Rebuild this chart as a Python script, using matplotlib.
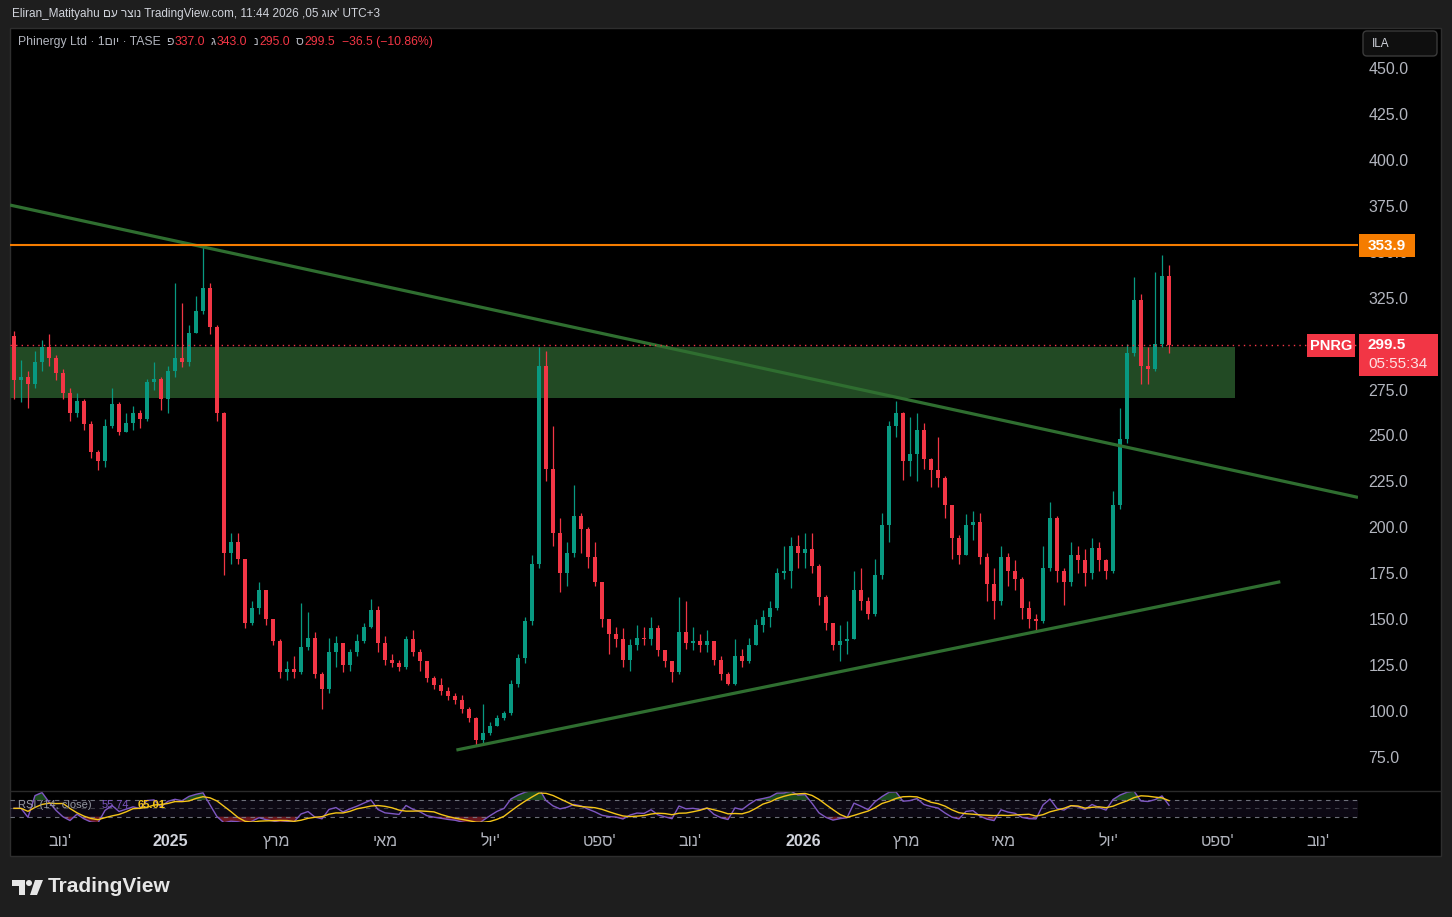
import numpy as np
import pandas as pd
import matplotlib
matplotlib.use("Agg")
import matplotlib.pyplot as plt
from matplotlib.patches import Rectangle, FancyBboxPatch, Polygon, Circle

FONT = ['Liberation Sans', 'DejaVu Sans']
plt.rcParams['font.family'] = FONT

# ---------------- data (PNRG daily, sampled) ----------------
first_open = 304
closes = [280, 282, 278, 290, 298, 292, 284, 273, 262, 269,
          256, 241, 236, 255, 267, 252, 257, 262, 259, 279,
          281, 270, 285, 292, 290, 306, 318, 330, 309, 262,
          186, 192, 183, 148, 156, 166, 150, 138, 121, 123,
          121, 135, 140, 120, 112, 132, 137, 125, 132, 138,
          146, 155, 137, 128, 126, 124, 139, 132, 127, 118,
          114, 111, 108, 106, 101, 96, 84, 88, 92, 96,
          99, 115, 129, 149, 180, 288, 232, 197, 175, 186,
          206, 199, 184, 170, 150, 142, 139, 128, 136, 140,
          139, 145, 133, 127, 121, 143, 137, 138, 136, 138,
          128, 120, 115, 130, 127, 136, 147, 151, 156, 175,
          176, 190, 186, 188, 179, 162, 148, 136, 138, 139,
          166, 160, 153, 174, 201, 255, 262, 236, 240, 253,
          237, 231, 227, 212, 194, 185, 201, 203, 184, 169,
          160, 184, 176, 172, 156, 150, 149, 178, 205, 176,
          170, 185, 182, 175, 189, 182, 176, 212, 248, 295,
          324, 288, 286, 300, 337, 299.5]
highs = [307, 291, 285, 296, 302, 305, 294, 286, 276, 273,
         270, 258, 242, 259, 276, 268, 262, 266, 264, 281,
         290, 282, 288, 333, 322, 310, 326, 353, 333, 310,
         263, 197, 197, 183, 160, 170, 166, 150, 139, 127,
         130, 159, 154, 143, 121, 140, 141, 137, 134, 142,
         148, 161, 157, 141, 131, 128, 141, 144, 134, 127,
         119, 118, 113, 110, 109, 102, 97, 104, 94, 98,
         100, 117, 131, 151, 185, 298, 296, 255, 205, 192,
         223, 208, 200, 192, 170, 150, 146, 145, 139, 147,
         146, 151, 147, 133, 127, 162, 160, 146, 142, 144,
         138, 130, 121, 139, 134, 140, 150, 155, 160, 178,
         190, 195, 196, 197, 197, 180, 163, 146, 147, 149,
         176, 178, 162, 183, 208, 258, 269, 263, 260, 262,
         257, 238, 249, 228, 212, 196, 207, 209, 208, 186,
         178, 190, 186, 182, 173, 160, 153, 190, 214, 206,
         178, 192, 190, 188, 194, 192, 183, 220, 265, 300,
         336, 327, 298, 339, 348, 343]
lows = [270, 268, 265, 276, 285, 288, 280, 270, 258, 260,
        253, 238, 231, 233, 254, 250, 252, 253, 254, 258,
        275, 264, 262, 282, 287, 288, 306, 316, 305, 258,
        174, 180, 180, 145, 147, 153, 147, 136, 118, 117,
        118, 120, 133, 118, 101, 110, 124, 121, 122, 130,
        137, 145, 132, 125, 124, 122, 123, 130, 122, 116,
        112, 109, 106, 104, 99, 94, 81, 82, 87, 92,
        95, 98, 113, 126, 147, 178, 225, 190, 165, 168,
        184, 186, 178, 168, 146, 131, 135, 124, 122, 133,
        136, 136, 130, 124, 116, 120, 134, 133, 132, 132,
        125, 117, 114, 114, 124, 126, 136, 143, 146, 155,
        172, 167, 178, 178, 175, 158, 144, 133, 127, 131,
        139, 155, 150, 152, 172, 192, 249, 226, 228, 225,
        232, 222, 222, 205, 183, 180, 185, 193, 180, 160,
        150, 158, 168, 166, 150, 145, 144, 148, 176, 170,
        158, 168, 175, 168, 172, 176, 172, 175, 210, 246,
        293, 278, 278, 285, 298, 295]
opens = [first_open] + closes[:-1]

# annotations / drawings (price levels, bar-index anchors)
resistance_level = 353.9
last_price = 299.5
zone_low, zone_high, zone_end_bar = 270.4, 298.2, 174.4
down_line_bars, down_line_prices = [-0.57, 192.0], [375.4, 216.3]
up_line_bars, up_line_prices = [63.2, 180.9], [78.8, 170.4]

price_ticks = [75, 100, 125, 150, 175, 200, 225, 250, 275, 300,
               325, 350, 375, 400, 425, 450]
month_labels = ["בונ'", "2025", "ץרמ", "יאמ", "לוי'", "טפס'", "בונ'",
                "2026", "ץרמ", "יאמ", "לוי'", "טפס'", "בונ'"]
month_label_bars = [6.57, 22.29, 37.57, 53.0, 68.0, 83.71, 96.57,
                    112.71, 127.57, 141.29, 156.29, 172.0, 186.29]

# ---------------- styling ----------------
UP, DOWN = '#089981', '#f23645'
TXT = '#b2b5be'
W, H = 1452, 917

fig = plt.figure(figsize=(W / 100, H / 100), dpi=100, facecolor='#1e1e1e')


def fx(px):
    return px / W


def fy(py):
    return 1 - py / H


# background panel
bg = fig.add_axes([0, 0, 1, 1], zorder=0)
bg.set_xlim(0, W)
bg.set_ylim(H, 0)
bg.axis('off')
bg.add_patch(Rectangle((10, 28), 1431, 828, facecolor='black',
                       edgecolor='#2e2e2e', lw=1))

# ---------------- main price pane ----------------
ax = fig.add_axes([fx(10), fy(790), (1358 - 10) / W, (790 - 28) / H], zorder=1)
ax.set_facecolor('none')
ax.set_xlim(-0.571, 192.0)
ax.set_ylim(57.04, 471.77)
for s in ax.spines.values():
    s.set_visible(False)

idx = np.arange(len(closes))
o = np.array(opens, float)
c = np.array(closes, float)
h = np.maximum.reduce([np.array(highs, float), o, c])
l = np.minimum.reduce([np.array(lows, float), o, c])
up = c >= o
cols = np.where(up, UP, DOWN)

ax.add_patch(Rectangle((-0.571, zone_low), zone_end_bar + 0.571,
                       zone_high - zone_low, facecolor='#224a24',
                       edgecolor='none', zorder=0.5))
ax.vlines(idx, l, h, colors=cols, lw=0.9, zorder=2)
ax.bar(idx, np.maximum(np.abs(c - o), 0.7), bottom=np.minimum(o, c),
       width=0.64, color=cols, lw=0, zorder=2.1)

ax.plot(down_line_bars, down_line_prices, color='#2f6e30', lw=2.3,
        solid_capstyle='butt', zorder=3)
ax.plot(up_line_bars, up_line_prices, color='#2f6e30', lw=2.3,
        solid_capstyle='butt', zorder=3)
ax.axhline(resistance_level, color='#f57c00', lw=1.5, zorder=3)
ax.axhline(last_price, color=DOWN, lw=1, ls=(0, (1, 3)), zorder=3)

ax.set_xticks([])
ax.set_yticks(price_ticks)
ax.set_yticklabels([f"{v:.1f}" for v in price_ticks])
ax.tick_params(axis='y', left=False, right=False, labelleft=False,
               labelright=True, length=0, pad=7.5, labelsize=11.5,
               labelcolor=TXT)

# ---------------- RSI pane ----------------
rsi_len, ma_len = 5, 5
cs = pd.Series(c)
delta = cs.diff().fillna(0)
gain = delta.clip(lower=0)
loss = -delta.clip(upper=0)
avg_g = gain.ewm(alpha=1 / rsi_len, adjust=False).mean()
avg_l = loss.ewm(alpha=1 / rsi_len, adjust=False).mean()
rsi = (100 - 100 / (1 + avg_g / avg_l.replace(0, np.nan))).fillna(50)
rsi_ma = rsi.rolling(ma_len, min_periods=1).mean()

rx = fig.add_axes([fx(10), fy(822), (1358 - 10) / W, (822 - 791) / H], zorder=1)
rx.set_facecolor('none')
rx.set_xlim(-0.571, 192.0)
rx.set_ylim(17.3, 91.6)
for s in rx.spines.values():
    s.set_visible(False)
rx.axhspan(30, 70, color='#7e57c2', alpha=0.1, lw=0)
for lev, a in [(70, 0.9), (50, 0.45), (30, 0.9)]:
    rx.axhline(lev, color='#787b86', lw=0.8, ls=(0, (4, 4)), alpha=a)
rx.fill_between(idx, 70, rsi, where=rsi > 70, color='#2e7d32', alpha=0.6,
                interpolate=True, lw=0)
rx.fill_between(idx, 30, rsi, where=rsi < 30, color='#b22833', alpha=0.6,
                interpolate=True, lw=0)
rx.plot(idx, rsi, color='#7e57c2', lw=1)
rx.plot(idx, rsi_ma, color='#f5c518', lw=1)
rx.set_yticks([])
rx.set_xticks(month_label_bars)
rx.set_xticklabels(month_labels)
rx.tick_params(axis='x', length=0, pad=8.5, labelsize=11.5, labelcolor=TXT)
for lab in rx.get_xticklabels():
    if lab.get_text().isdigit():
        lab.set_fontweight('bold')
        lab.set_color('#d1d4dc')

# ---------------- overlay (chrome, labels) ----------------
ov = fig.add_axes([0, 0, 1, 1], zorder=5)
ov.set_xlim(0, W)
ov.set_ylim(H, 0)
ov.axis('off')
ov.patch.set_alpha(0)
renderer = fig.canvas.get_renderer()

# pane separator
ov.plot([10, 1441], [791, 791], color='#2a2a2a', lw=1)

# header
ov.text(12, 14, "Eliran_Matityahu םע רצונ TradingView.com, 11:44 2026 ,05 גוא' UTC+3",
        color='#d1d4dc', fontsize=8.5, va='center', ha='left')

# legend line, chained left to right
legend_parts = [("Phinergy Ltd · 1םוי · TASE", TXT, 5),
                ("פ", TXT, 1), ("337.0", DOWN, 6),
                ("ג", TXT, 1), ("343.0", DOWN, 6),
                ("נ", TXT, 1), ("295.0", DOWN, 6),
                ("ס", TXT, 1), ("299.5", DOWN, 7),
                ("−36.5 (−10.86%)", DOWN, 0)]
cur_x = 18
for t, col, gap in legend_parts:
    tt = ov.text(cur_x, 42, t, color=col, fontsize=8.8, va='center', ha='left')
    cur_x += tt.get_window_extent(renderer=renderer).width + gap

# ILA button
ov.add_patch(FancyBboxPatch((1363, 31), 74, 25,
                            boxstyle="round,pad=0,rounding_size=4",
                            facecolor='#0f0f0f', edgecolor='#3a3a3a', lw=1))
ov.text(1372, 44, "ILA", color='#d1d4dc', fontsize=8.5, va='center', ha='left')

# resistance price label
ov.add_patch(Rectangle((1359, 234), 56, 23, facecolor='#f57c00', edgecolor='none'))
ov.text(1368, 245.5, f"{resistance_level:.1f}", color='white', fontsize=11,
        fontweight='bold', va='center', ha='left')

# last price labels
ov.add_patch(Rectangle((1307, 334), 48, 23, facecolor=DOWN, edgecolor='none'))
ov.text(1331, 345.5, "PNRG", color='white', fontsize=10.5, fontweight='bold',
        va='center', ha='center')
ov.add_patch(Rectangle((1359, 334), 79, 42, facecolor=DOWN, edgecolor='none'))
ov.text(1368, 345, f"{last_price:.1f}", color='white', fontsize=11,
        fontweight='bold', va='center', ha='left')
ov.text(1368, 364, "05:55:34", color='#fde2e4', fontsize=11, va='center',
        ha='left')

# RSI legend
ov.text(18, 805, "RSI (14, close)", color='#9598a1', fontsize=8, va='center',
        ha='left')
ov.text(102, 805, "55.74", color='#7e57c2', fontsize=8, va='center', ha='left')
ov.text(138, 805, "65.01", color='#f5c518', fontsize=8, va='center',
        ha='left', fontweight='bold')

# TradingView logo
logo_col = '#e6e6e6'
ov.add_patch(Rectangle((12, 880), 13, 6, facecolor=logo_col, edgecolor='none'))
ov.add_patch(Rectangle((19, 880), 6, 15, facecolor=logo_col, edgecolor='none'))
ov.add_patch(Circle((29, 883), 3, facecolor=logo_col, edgecolor='none'))
ov.add_patch(Polygon([(35, 880), (43, 880), (37, 895), (30, 895)],
                     closed=True, facecolor=logo_col, edgecolor='none'))
ov.text(48, 887, "TradingView", color=logo_col, fontsize=15, fontweight='bold',
        va='center', ha='left')

fig.savefig("out.png", dpi=100, facecolor=fig.get_facecolor())
